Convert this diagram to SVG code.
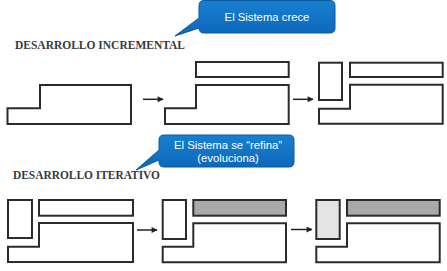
<svg xmlns="http://www.w3.org/2000/svg" width="447" height="271" viewBox="0 0 447 271">
<defs>
<style>
.shape{fill:#fff;stroke:#2b2b2b;stroke-width:2;stroke-linejoin:miter}
.dark{fill:#a9a9a9}
.light{fill:#e4e4e4}
.head{font-family:"Liberation Serif",serif;font-size:12.5px;font-weight:bold;fill:#3a3a3a}
.call{fill:url(#blue);stroke:#0a5aa3;stroke-width:1}
.ctext{font-family:"Liberation Sans",Arial,sans-serif;font-size:11.3px;fill:#fff;text-anchor:middle}
.conn{stroke:#222;stroke-width:1.5;fill:none}
</style>
<linearGradient id="blue" x1="0" y1="0" x2="0" y2="1">
<stop offset="0" stop-color="#1a7fd0"/>
<stop offset="1" stop-color="#0b66b8"/>
</linearGradient>
<marker id="ah" viewBox="0 0 10 10" refX="9" refY="5" markerWidth="7" markerHeight="6" markerUnits="userSpaceOnUse" orient="auto">
<path d="M0,0 L10,5 L0,10 z" fill="#222"/>
</marker>
</defs>
<rect width="447" height="271" fill="#fff"/>

<g id="callout1">
<path class="call" d="M204,0.5 H330 Q335,0.5 335,5.5 V28 Q335,33 330,33 H204 Q199,33 199,28 V28 L175,36 L199,18 V5.5 Q199,0.5 204,0.5 Z"/>
<text class="ctext" x="267" y="21">El Sistema crece</text>
</g>
<text id="title1" class="head" x="15" y="49.3" textLength="170" lengthAdjust="spacingAndGlyphs">DESARROLLO INCREMENTAL</text>

<g id="inc1">
<path class="shape" d="M7.5,108.3 H40 V85 H131 V124 H7.5 Z"/>
</g>
<g id="inc2">
<rect class="shape" x="196" y="62" width="92.7" height="15"/>
<path class="shape" d="M165,108.3 H196 V85 H288.7 V124 H165 Z"/>
</g>
<g id="inc3">
<rect class="shape" x="319" y="62.7" width="23" height="37.3"/>
<rect class="shape" x="350" y="62.7" width="92.7" height="14.3"/>
<path class="shape" d="M319,108.7 H350 V84.7 H442.7 V123.7 H319 Z"/>
</g>

<g id="callout2">
<path class="call" d="M164,135 H289 Q294,135 294,140 V162 Q294,167 289,167 H164 Q159,167 159,162 V160 L136,170 L159,150 V140 Q159,135 164,135 Z"/>
<text class="ctext" x="228" y="149">El Sistema se “refina”</text>
<text class="ctext" x="228" y="162">(evoluciona)</text>
</g>
<text id="title2" class="head" x="13" y="179" textLength="147" lengthAdjust="spacingAndGlyphs">DESARROLLO ITERATIVO</text>

<g id="it1">
<rect class="shape" x="8" y="200" width="24" height="38"/>
<rect class="shape" x="39" y="200" width="94" height="15.7"/>
<path class="shape" d="M8,246.7 H39 V223 H133 V262 H8 Z"/>
</g>
<g id="it2">
<rect class="shape" x="162.7" y="200" width="23.3" height="39"/>
<rect class="shape dark" x="193.3" y="200" width="92.7" height="15.7"/>
<path class="shape" d="M162.7,246.7 H193.3 V223.3 H286 V262.3 H162.7 Z"/>
</g>
<g id="it3">
<rect class="shape light" x="316.3" y="200" width="23.4" height="39"/>
<rect class="shape dark" x="347" y="200" width="92.7" height="15.7"/>
<path class="shape" d="M316.3,246.7 H347 V223.3 H439.7 V262.3 H316.3 Z"/>
</g>

<g id="connectors">
<line class="conn" x1="143" y1="99.3" x2="163" y2="99.3" marker-end="url(#ah)"/>
<line class="conn" x1="293" y1="99.3" x2="313" y2="99.3" marker-end="url(#ah)"/>
<line class="conn" x1="137" y1="230" x2="157" y2="230" marker-end="url(#ah)"/>
<line class="conn" x1="291" y1="229.5" x2="312" y2="229.5" marker-end="url(#ah)"/>
</g>
</svg>
